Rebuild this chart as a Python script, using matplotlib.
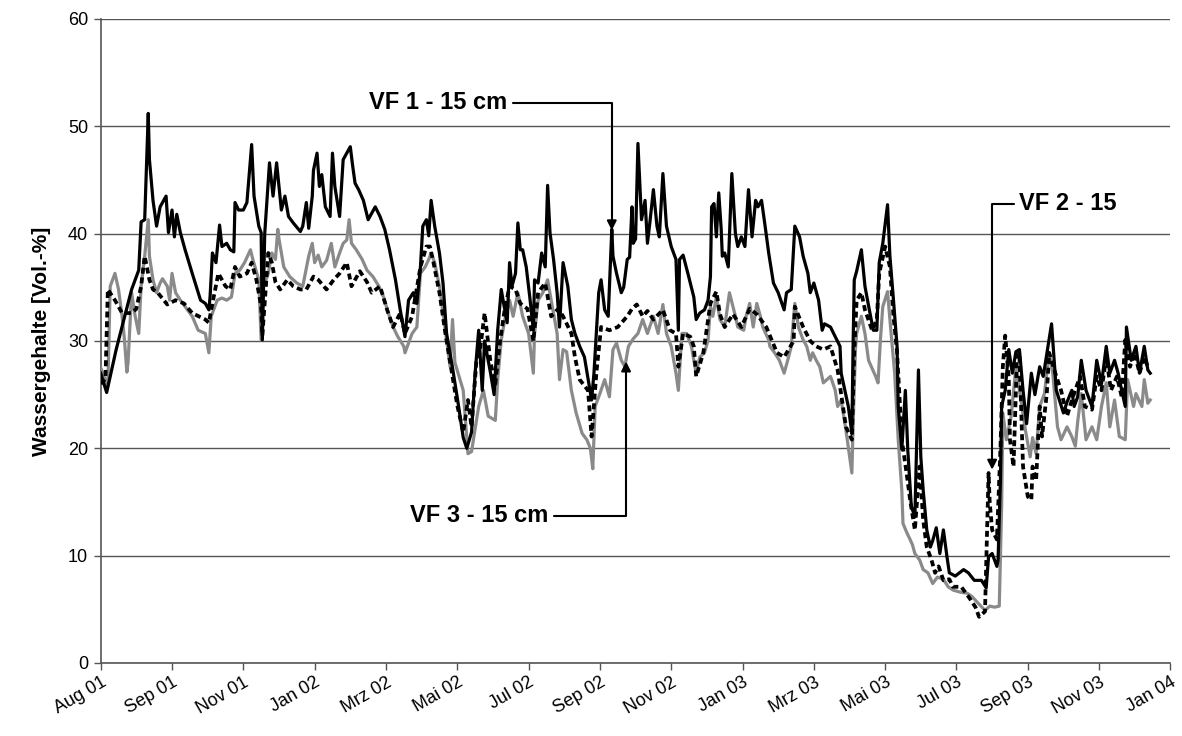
import matplotlib
matplotlib.use("Agg")
import matplotlib.pyplot as plt

plt.rcParams['font.family'] = ['Liberation Sans', 'DejaVu Sans']

# days since 01 Aug 2001
vf1_days = [0, 5, 13, 26, 32, 34, 37, 40, 41, 44, 47, 50, 55, 57, 60, 62, 64, 67, 71, 77, 84, 88, 91, 92, 94, 97,
            100, 102, 106, 109, 112, 113, 116, 120, 123, 127, 129, 133, 135, 136, 138, 142, 145, 148, 152, 155,
            158, 162, 168, 170, 173, 175, 178, 179, 182, 184, 186, 189, 193, 195, 197, 201, 204, 207, 210, 212,
            214, 217, 221, 225, 231, 235, 239, 243, 248, 252, 256, 259, 263, 266, 269, 271, 274, 276, 278, 281,
            285, 288, 291, 296, 301, 305, 308, 312, 315, 318, 321, 323, 328, 331, 334, 337, 339, 342, 344, 346,
            349, 351, 353, 355, 358, 361, 364, 365, 368, 371, 374, 376, 378, 381, 384, 386, 389, 393, 396, 399,
            403, 407, 413, 415, 419, 421, 424, 427, 430, 431, 434, 438, 440, 443, 445, 447, 448, 450, 452, 455,
            458, 460, 462, 465, 468, 470, 473, 476, 480, 484, 486, 487, 490, 494, 499, 501, 504, 508, 511, 513,
            514, 516, 518, 520, 522, 523, 525, 528, 531, 534, 536, 539, 542, 545, 548, 551, 553, 556, 559, 562,
            566, 570, 575, 577, 581, 584, 588, 591, 595, 597, 600, 604, 607, 609, 614, 618, 622, 623, 629, 632,
            633, 634, 636, 640, 643, 646, 650, 653, 655, 658, 662, 664, 667, 670, 671, 674, 677, 679, 682, 685,
            688, 690, 692, 695, 698, 700, 703, 706, 709, 712, 714, 719, 726, 730, 735, 741, 745, 747, 750, 754,
            755, 757, 758, 761, 764, 767, 770, 773, 776, 779, 783, 786, 790, 793, 797, 800, 804, 810, 813, 817,
            819, 822, 825, 829, 834, 838, 842, 846, 849, 853, 856, 859, 862, 863, 867, 871, 874, 878, 881, 883]
vf1_vals = [27.0, 25.2, 29.2, 34.8, 36.6, 41.1, 41.3, 51.2, 46.9, 43.1, 40.7, 42.5, 43.5, 40.1, 42.2, 39.7, 41.8,
            40.1, 38.5, 36.3, 33.8, 33.5, 32.9, 34.1, 38.2, 37.3, 40.8, 38.8, 39.1, 38.5, 38.3, 42.9, 42.2, 42.2,
            42.9, 48.3, 43.5, 40.7, 40.1, 30.1, 40.0, 46.6, 43.5, 46.6, 42.2, 43.5, 41.6, 41.0, 40.2, 40.7, 42.9,
            40.5, 43.5, 45.9, 47.5, 44.4, 45.5, 42.5, 41.6, 47.5, 44.4, 41.6, 46.9, 47.5, 48.1, 46.3, 44.7, 44.1,
            43.1, 41.3, 42.5, 41.6, 40.4, 38.5, 35.7, 32.9, 30.4, 33.8, 34.5, 33.5, 36.9, 40.7, 41.3, 39.8, 43.1,
            40.7, 38.2, 35.4, 30.7, 27.5, 24.0, 21.0, 20.0, 21.5, 27.0, 31.0, 25.4, 30.0, 27.0, 25.0, 31.0, 34.8,
            33.5, 31.7, 37.3, 35.1, 36.3, 41.0, 38.5, 38.5, 36.9, 34.1, 31.0, 35.7, 35.4, 38.2, 36.9, 44.5, 40.1,
            37.6, 34.5, 31.3, 37.3, 35.1, 32.0, 30.7, 29.5, 28.5, 24.5, 27.0, 34.5, 35.7, 32.9, 32.3, 40.4, 37.9,
            36.3, 34.5, 35.0, 37.6, 37.8, 42.5, 39.1, 39.5, 48.4, 41.3, 43.1, 39.1, 41.0, 44.1, 40.7, 39.7, 45.6,
            40.7, 38.8, 37.6, 31.0, 37.6, 38.0, 36.3, 34.1, 32.0, 32.6, 32.9, 33.8, 36.0, 42.5, 42.8, 39.7, 43.8,
            40.5, 37.9, 38.2, 36.9, 45.6, 40.0, 38.8, 39.7, 38.8, 44.1, 39.7, 43.1, 42.5, 43.1, 40.7, 38.2, 35.4,
            34.5, 32.9, 34.5, 34.8, 40.7, 39.7, 37.9, 36.3, 34.5, 35.4, 33.8, 31.0, 31.6, 31.3, 30.4, 29.5, 27.0,
            23.9, 21.4, 29.5, 35.7, 36.5, 38.5, 35.1, 33.3, 31.0, 31.0, 37.3, 39.1, 42.7, 37.9, 33.8, 29.5, 23.9,
            19.9, 25.4, 19.9, 14.6, 13.6, 27.3, 19.2, 16.1, 12.4, 10.8, 11.4, 12.6, 10.2, 12.4, 9.9, 8.4, 8.1,
            8.7, 8.4, 7.7, 7.7, 7.0, 9.9, 10.2, 9.0, 9.6, 17.1, 23.9, 25.4, 29.2, 27.0, 29.0, 29.2, 25.4, 22.3,
            27.0, 25.0, 27.6, 26.7, 29.5, 31.6, 25.4, 23.3, 24.3, 25.4, 23.9, 24.8, 28.2, 25.4, 23.9, 28.2, 26.0,
            29.5, 27.0, 28.2, 27.0, 25.4, 23.9, 31.3, 28.2, 29.5, 27.0, 29.5, 27.3, 27.0]

vf2_days = [0, 4, 6, 12, 18, 26, 30, 34, 37, 41, 44, 48, 56, 63, 70, 77, 88, 91, 94, 99, 105, 109, 113, 117, 123,
            127, 131, 135, 136, 141, 144, 147, 151, 157, 162, 168, 173, 179, 183, 190, 196, 201, 207, 211, 218,
            224, 228, 235, 241, 246, 252, 256, 262, 269, 274, 277, 280, 285, 290, 294, 300, 305, 309, 312, 316,
            319, 323, 328, 332, 336, 340, 344, 349, 353, 359, 364, 368, 374, 379, 385, 389, 396, 399, 403, 410,
            413, 417, 421, 428, 435, 443, 447, 451, 456, 460, 465, 473, 479, 484, 486, 490, 496, 499, 501, 507,
            513, 518, 521, 525, 532, 539, 546, 552, 560, 569, 575, 583, 584, 591, 597, 602, 608, 614, 620, 627,
            632, 634, 636, 640, 643, 649, 653, 655, 660, 664, 667, 670, 674, 678, 681, 685, 689, 692, 695, 699,
            702, 705, 709, 714, 717, 724, 730, 736, 739, 744, 747, 748, 750, 754, 757, 759, 761, 764, 765, 768,
            771, 773, 776, 780, 783, 784, 787, 790, 792, 796, 798, 804, 808, 813, 818, 824, 828, 834, 838, 842,
            846, 850, 855, 859, 862, 866, 870, 874, 878, 881]
vf2_vals = [26.0, 26.5, 34.8, 33.8, 32.6, 32.6, 33.0, 35.1, 37.9, 35.7, 34.8, 34.5, 33.4, 33.8, 33.5, 32.6, 32.0,
            31.7, 33.5, 36.3, 35.1, 34.8, 36.9, 36.0, 36.3, 37.3, 35.7, 33.2, 30.5, 38.2, 37.3, 35.5, 34.8, 35.7,
            35.1, 34.8, 34.8, 36.0, 35.7, 34.8, 35.7, 36.3, 37.3, 35.1, 36.5, 35.5, 34.5, 35.1, 32.9, 31.3, 32.6,
            30.7, 32.3, 36.9, 38.8, 38.8, 37.3, 34.5, 30.7, 28.0, 24.0, 21.5, 24.5, 22.0, 28.0, 29.0, 32.6, 28.0,
            26.0, 30.0, 33.0, 35.1, 34.8, 33.5, 33.0, 30.0, 34.5, 35.4, 32.3, 33.0, 32.3, 30.7, 28.5, 26.4, 25.4,
            21.1, 27.0, 31.3, 31.0, 31.3, 32.3, 33.0, 33.4, 32.3, 32.8, 32.0, 32.9, 31.0, 30.7, 27.6, 30.7, 30.4,
            29.5, 26.7, 28.9, 33.5, 34.6, 32.5, 31.3, 32.5, 31.3, 33.0, 32.5, 31.3, 28.9, 28.5, 30.0, 33.2, 31.3,
            30.0, 29.5, 29.2, 29.5, 27.3, 22.0, 20.8, 29.0, 33.8, 34.5, 32.9, 31.0, 32.0, 36.3, 38.8, 36.9, 32.3,
            29.0, 20.8, 17.7, 15.2, 12.4, 18.3, 13.3, 10.8, 9.6, 8.4, 9.0, 7.7, 7.8, 7.1, 7.1, 6.2, 5.2, 4.3, 4.8,
            17.7, 14.9, 12.4, 11.5, 20.0, 27.6, 30.5, 26.5, 20.8, 18.3, 28.9, 28.5, 18.3, 15.5, 15.2, 18.3, 17.0,
            23.9, 21.1, 25.1, 28.9, 26.7, 25.4, 23.0, 24.8, 26.7, 23.9, 23.6, 26.7, 25.4, 28.5, 25.4, 26.7, 24.8,
            30.1, 27.6, 28.9, 27.0, 28.5, 27.6]

vf3_days = [0, 6, 8, 12, 15, 18, 20, 22, 23, 26, 29, 32, 34, 37, 40, 41, 44, 47, 50, 52, 56, 58, 60, 63, 67, 71,
            77, 82, 88, 91, 93, 98, 102, 106, 110, 113, 117, 121, 126, 128, 133, 135, 137, 141, 144, 147, 149,
            150, 154, 159, 165, 170, 175, 178, 180, 183, 186, 190, 194, 197, 201, 204, 207, 209, 211, 215, 220,
            224, 229, 234, 238, 242, 246, 250, 255, 256, 262, 266, 269, 273, 276, 278, 281, 285, 288, 291, 294,
            296, 298, 305, 309, 312, 318, 322, 326, 332, 334, 337, 340, 344, 347, 351, 355, 360, 364, 365, 368,
            372, 376, 379, 384, 386, 389, 392, 396, 400, 405, 409, 412, 414, 416, 420, 424, 428, 431, 434, 438,
            441, 444, 448, 452, 456, 460, 465, 469, 473, 476, 480, 484, 486, 489, 493, 497, 499, 501, 504, 508,
            511, 513, 515, 518, 521, 525, 529, 534, 536, 541, 543, 546, 549, 552, 555, 557, 562, 563, 567, 571,
            575, 578, 581, 584, 587, 591, 594, 597, 599, 602, 605, 608, 614, 618, 620, 623, 627, 632, 633, 635,
            636, 640, 643, 646, 652, 654, 656, 658, 662, 665, 668, 671, 674, 675, 678, 681, 683, 685, 689, 692,
            696, 700, 704, 709, 713, 717, 723, 729, 733, 738, 744, 748, 752, 756, 758, 759, 762, 766, 770, 775,
            778, 782, 784, 787, 790, 794, 798, 801, 805, 808, 813, 817, 820, 822, 825, 829, 834, 838, 842, 846,
            849, 853, 857, 862, 864, 869, 871, 876, 878, 881, 883]
vf3_vals = [27.5, 25.8, 35.1, 36.3, 34.8, 32.3, 30.1, 27.1, 28.0, 34.5, 32.3, 30.7, 35.1, 37.9, 41.3, 37.9, 35.7,
            34.5, 35.4, 35.8, 35.1, 33.8, 36.3, 34.5, 33.8, 33.2, 32.3, 31.0, 30.7, 28.9, 32.3, 33.8, 34.0, 33.8,
            34.1, 36.3, 36.6, 37.3, 38.5, 37.6, 35.7, 30.1, 35.1, 36.3, 38.2, 37.6, 40.4, 39.5, 36.9, 36.0, 35.4,
            35.1, 37.9, 39.1, 37.3, 38.0, 36.9, 37.5, 39.1, 36.9, 38.2, 39.1, 39.4, 41.3, 39.1, 38.5, 37.6, 36.6,
            36.0, 35.1, 34.1, 32.6, 31.3, 30.4, 29.5, 28.9, 30.7, 31.3, 36.3, 36.9, 37.6, 38.2, 37.3, 35.1, 32.6,
            30.1, 27.6, 32.0, 28.0, 25.4, 19.5, 19.7, 23.9, 25.4, 23.0, 22.6, 26.4, 30.1, 32.0, 33.8, 32.3, 34.5,
            32.3, 30.7, 27.0, 30.7, 33.8, 34.5, 35.7, 33.8, 30.7, 26.4, 29.2, 29.0, 25.4, 23.3, 21.4, 20.8, 20.0,
            18.1, 23.9, 25.1, 26.4, 24.8, 29.2, 29.8, 28.2, 27.6, 29.5, 30.2, 30.7, 32.0, 30.7, 32.3, 30.7, 33.4,
            30.7, 29.5, 27.0, 25.4, 30.7, 30.7, 29.5, 28.2, 27.0, 28.5, 28.9, 30.1, 33.2, 32.3, 34.1, 32.0, 31.3,
            34.5, 32.3, 31.3, 31.0, 32.3, 33.5, 31.3, 33.5, 32.3, 31.3, 30.1, 29.5, 28.9, 28.2, 27.0, 28.2, 29.5,
            33.5, 31.3, 30.1, 29.5, 28.2, 28.9, 28.2, 27.6, 26.1, 26.7, 25.4, 23.9, 24.5, 21.7, 17.7, 22.0, 29.2,
            30.7, 32.3, 30.7, 28.2, 26.7, 26.1, 30.1, 33.2, 34.6, 30.7, 27.0, 20.8, 16.1, 13.0, 12.2, 11.5, 11.0,
            10.2, 9.6, 8.7, 8.4, 7.4, 8.0, 7.8, 7.1, 6.8, 6.6, 6.5, 6.2, 5.6, 4.9, 5.3, 5.2, 5.3, 14.6, 23.3, 20.8,
            23.0, 27.6, 23.9, 21.7, 19.2, 21.0, 19.5, 23.9, 25.1, 28.9, 27.0, 22.0, 20.8, 22.0, 21.1, 20.2, 22.5,
            25.1, 20.8, 22.0, 20.8, 23.9, 26.1, 22.0, 24.5, 21.1, 20.8, 26.4, 23.9, 25.1, 23.9, 26.4, 24.2, 24.5]

tick_days = [0, 60, 120, 180, 240, 300, 360, 420, 480, 540, 600, 660, 720, 780, 840, 900]
tick_labels = ['Aug 01', 'Sep 01', 'Nov 01', 'Jan 02', 'Mrz 02', 'Mai 02', 'Jul 02', 'Sep 02',
               'Nov 02', 'Jan 03', 'Mrz 03', 'Mai 03', 'Jul 03', 'Sep 03', 'Nov 03', 'Jan 04']
y_ticks = [0, 10, 20, 30, 40, 50, 60]

fig = plt.figure(figsize=(11.82, 7.36), dpi=100)
ax = fig.add_axes([0.0852, 0.0992, 0.905, 0.875])

ax.plot(vf3_days, vf3_vals, color='#8a8a8a', lw=2.3, zorder=3, solid_joinstyle='round')
ax.plot(vf1_days, vf1_vals, color='black', lw=2.3, zorder=4, solid_joinstyle='round')
ax.plot(vf2_days, vf2_vals, color='black', lw=2.7, zorder=5, linestyle=(0, (1.6, 1.0)))

ax.set_xlim(0, 900)
ax.set_ylim(0, 60)
ax.set_yticks(y_ticks)
ax.set_xticks(tick_days)
ax.set_xticklabels(tick_labels, rotation=30, ha='right', va='top', rotation_mode='anchor')
ax.tick_params(axis='x', direction='out', length=5, width=1, color='#555555', labelsize=13, pad=3)
ax.tick_params(axis='y', direction='out', length=5, width=1, color='#555555', labelsize=13, pad=4)
ax.grid(axis='y', color='#555555', lw=1.0, zorder=1)
ax.set_axisbelow(True)
for s in ['top', 'right']:
    ax.spines[s].set_visible(False)
for s in ['left', 'bottom']:
    ax.spines[s].set_color('#555555')
    ax.spines[s].set_linewidth(1.2)

ax.set_ylabel('Wassergehalte [Vol.-%]', fontsize=15, fontweight='bold', labelpad=12)

arrow = dict(arrowstyle='-|>', color='black', lw=1.5, mutation_scale=14,
             connectionstyle='angle,angleA=0,angleB=90,rad=0', shrinkA=2, shrinkB=0)
ax.annotate('VF 1 - 15 cm', xy=(430, 40.3), xytext=(342, 52.2), textcoords='data',
            ha='right', va='center', fontsize=17, fontweight='bold', arrowprops=arrow, zorder=6)
ax.annotate('VF 3 - 15 cm', xy=(442, 28.1), xytext=(377, 13.7), textcoords='data',
            ha='right', va='center', fontsize=17, fontweight='bold', arrowprops=arrow, zorder=6)
ax.annotate('VF 2 - 15', xy=(750, 18.0), xytext=(773, 42.8), textcoords='data',
            ha='left', va='center', fontsize=17, fontweight='bold', arrowprops=arrow, zorder=6)

fig.savefig('out.png', dpi=100)
